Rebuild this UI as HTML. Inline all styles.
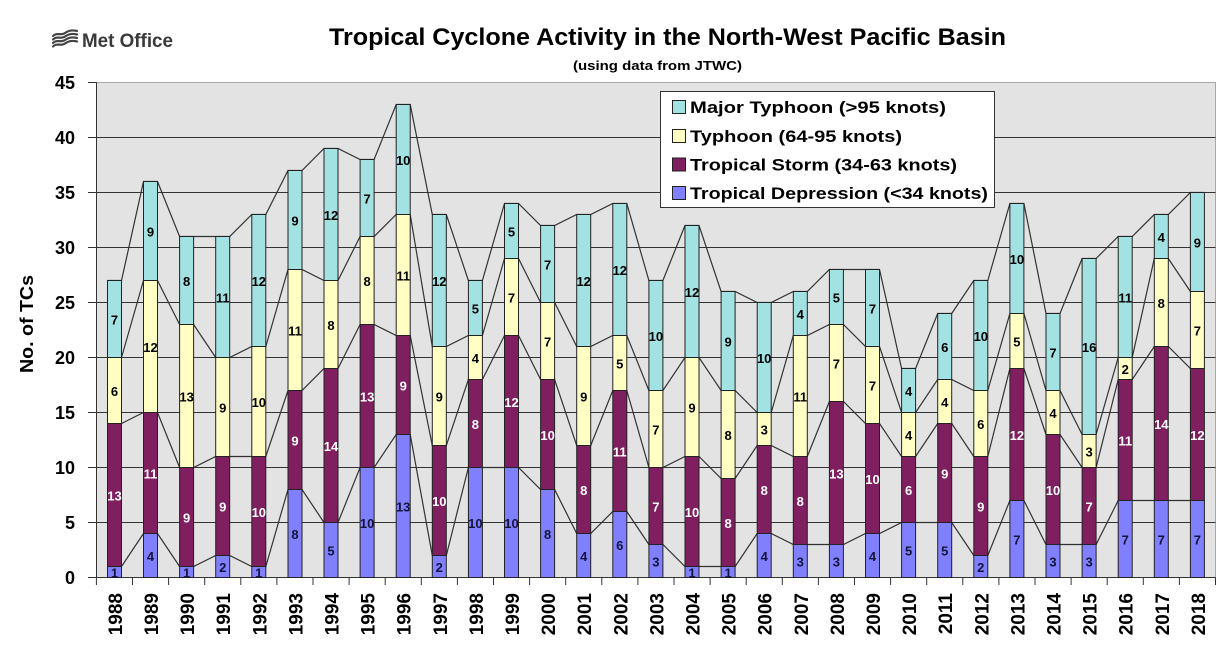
<!DOCTYPE html>
<html><head><meta charset="utf-8">
<style>
html,body{margin:0;padding:0;background:#fff;}
svg{display:block;}
.s rect,.s polyline{vector-effect:non-scaling-stroke;}
.td{fill:#8080ff}.ts{fill:#7f1f5f}.ty{fill:#ffffc4}.mt{fill:#a3e2e2}
text{font-family:"Liberation Sans",Arial,sans-serif;font-weight:bold;}
</style></head>
<body>
<svg width="1230" height="656" viewBox="0 0 1230 656" xmlns="http://www.w3.org/2000/svg">
<rect x="0" y="0" width="1230" height="656" fill="#fff"/>

<!-- Met Office logo -->
<g stroke="#444" stroke-width="2.2" fill="none" stroke-linecap="round">
<path d="M53,36 C57,32 61,36 65,33 S73,30 77,31"/>
<path d="M53,39.5 C57,35.5 61,39.5 65,36.5 S73,33.5 77,34.5"/>
<path d="M53,43 C57,39 61,43 65,40 S73,37 77,38"/>
<path d="M53,46.5 C57,42.5 61,46.5 65,43.5 S73,40.5 77,41.5"/>
</g>
<text x="82" y="47" font-size="19" fill="#3a3a3a" textLength="91" lengthAdjust="spacingAndGlyphs">Met Office</text>

<!-- Titles -->
<text x="329" y="45" font-size="24" fill="#000" textLength="677" lengthAdjust="spacingAndGlyphs">Tropical Cyclone Activity in the North-West Pacific Basin</text>
<text x="573" y="70" font-size="13" fill="#000" textLength="169" lengthAdjust="spacingAndGlyphs">(using data from JTWC)</text>

<!-- Plot area -->
<rect x="96.5" y="82.5" width="1119" height="495" fill="#e3e3e3" stroke="#a8a8a8" stroke-width="1"/>
<g stroke="#333" stroke-width="1" fill="none">
<path d="M96.5,522.5H1215.5M96.5,467.5H1215.5M96.5,412.5H1215.5M96.5,357.5H1215.5M96.5,302.5H1215.5M96.5,247.5H1215.5M96.5,192.5H1215.5M96.5,137.5H1215.5"/>
<path d="M88,577.5H96.5M88,522.5H96.5M88,467.5H96.5M88,412.5H96.5M88,357.5H96.5M88,302.5H96.5M88,247.5H96.5M88,192.5H96.5M88,137.5H96.5M88,82.5H96.5"/>
<path d="M96.5,82.5V577.5H1215.5"/>
<path d="M96.4,577.5V585M132.5,577.5V585M168.6,577.5V585M204.7,577.5V585M240.8,577.5V585M276.9,577.5V585M313,577.5V585M349.1,577.5V585M385.2,577.5V585M421.3,577.5V585M457.4,577.5V585M493.5,577.5V585M529.6,577.5V585M565.7,577.5V585M601.8,577.5V585M637.9,577.5V585M674,577.5V585M710.1,577.5V585M746.2,577.5V585M782.3,577.5V585M818.4,577.5V585M854.5,577.5V585M890.6,577.5V585M926.7,577.5V585M962.8,577.5V585M998.9,577.5V585M1035,577.5V585M1071.1,577.5V585M1107.2,577.5V585M1143.3,577.5V585M1179.4,577.5V585M1215.5,577.5V585"/>
</g>

<!-- Y labels -->
<g font-size="18" fill="#000" text-anchor="end">
<text x="75" y="584">0</text>
<text x="75" y="529">5</text>
<text x="75" y="474">10</text>
<text x="75" y="419">15</text>
<text x="75" y="364">20</text>
<text x="75" y="309">25</text>
<text x="75" y="254">30</text>
<text x="75" y="199">35</text>
<text x="75" y="144">40</text>
<text x="75" y="89">45</text>
</g>
<text transform="translate(33,324) rotate(-90)" font-size="18" text-anchor="middle" textLength="98" lengthAdjust="spacingAndGlyphs">No. of TCs</text>

<!-- Series lines and bars -->
<g class="s" transform="translate(0,577.5) scale(1,-11)">
<g fill="none" stroke="#333" stroke-width="1.2">
<polyline points="107.5,1 121.5,1 143.5,4 157.5,4 179.6,1 193.6,1 215.7,2 229.7,2 251.8,1 265.8,1 288,8 302,8 324,5 338,5 360.1,10 374.1,10 396.2,13 410.2,13 432.3,2 446.3,2 468.4,10 482.4,10 504.5,10 518.5,10 540.6,8 554.6,8 576.7,4 590.7,4 612.8,6 626.8,6 648.9,3 662.9,3 685,1 699,1 721.1,1 735.1,1 757.2,4 771.2,4 793.3,3 807.3,3 829.4,3 843.4,3 865.5,4 879.5,4 901.6,5 915.6,5 937.7,5 951.7,5 973.8,2 987.8,2 1009.9,7 1023.9,7 1046,3 1060,3 1082.1,3 1096.1,3 1118.2,7 1132.2,7 1154.3,7 1168.3,7 1190.4,7 1204.4,7"/>
<polyline points="107.5,14 121.5,14 143.5,15 157.5,15 179.6,10 193.6,10 215.7,11 229.7,11 251.8,11 265.8,11 288,17 302,17 324,19 338,19 360.1,23 374.1,23 396.2,22 410.2,22 432.3,12 446.3,12 468.4,18 482.4,18 504.5,22 518.5,22 540.6,18 554.6,18 576.7,12 590.7,12 612.8,17 626.8,17 648.9,10 662.9,10 685,11 699,11 721.1,9 735.1,9 757.2,12 771.2,12 793.3,11 807.3,11 829.4,16 843.4,16 865.5,14 879.5,14 901.6,11 915.6,11 937.7,14 951.7,14 973.8,11 987.8,11 1009.9,19 1023.9,19 1046,13 1060,13 1082.1,10 1096.1,10 1118.2,18 1132.2,18 1154.3,21 1168.3,21 1190.4,19 1204.4,19"/>
<polyline points="107.5,20 121.5,20 143.5,27 157.5,27 179.6,23 193.6,23 215.7,20 229.7,20 251.8,21 265.8,21 288,28 302,28 324,27 338,27 360.1,31 374.1,31 396.2,33 410.2,33 432.3,21 446.3,21 468.4,22 482.4,22 504.5,29 518.5,29 540.6,25 554.6,25 576.7,21 590.7,21 612.8,22 626.8,22 648.9,17 662.9,17 685,20 699,20 721.1,17 735.1,17 757.2,15 771.2,15 793.3,22 807.3,22 829.4,23 843.4,23 865.5,21 879.5,21 901.6,15 915.6,15 937.7,18 951.7,18 973.8,17 987.8,17 1009.9,24 1023.9,24 1046,17 1060,17 1082.1,13 1096.1,13 1118.2,20 1132.2,20 1154.3,29 1168.3,29 1190.4,26 1204.4,26"/>
<polyline points="107.5,27 121.5,27 143.5,36 157.5,36 179.6,31 193.6,31 215.7,31 229.7,31 251.8,33 265.8,33 288,37 302,37 324,39 338,39 360.1,38 374.1,38 396.2,43 410.2,43 432.3,33 446.3,33 468.4,27 482.4,27 504.5,34 518.5,34 540.6,32 554.6,32 576.7,33 590.7,33 612.8,34 626.8,34 648.9,27 662.9,27 685,32 699,32 721.1,26 735.1,26 757.2,25 771.2,25 793.3,26 807.3,26 829.4,28 843.4,28 865.5,28 879.5,28 901.6,19 915.6,19 937.7,24 951.7,24 973.8,27 987.8,27 1009.9,34 1023.9,34 1046,24 1060,24 1082.1,29 1096.1,29 1118.2,31 1132.2,31 1154.3,33 1168.3,33 1190.4,35 1204.4,35"/>
</g>
<g stroke="#222" stroke-width="1">
<rect class="td" x="107.5" y="0" width="14" height="1"/><rect class="ts" x="107.5" y="1" width="14" height="13"/><rect class="ty" x="107.5" y="14" width="14" height="6"/><rect class="mt" x="107.5" y="20" width="14" height="7"/>
<rect class="td" x="143.5" y="0" width="14" height="4"/><rect class="ts" x="143.5" y="4" width="14" height="11"/><rect class="ty" x="143.5" y="15" width="14" height="12"/><rect class="mt" x="143.5" y="27" width="14" height="9"/>
<rect class="td" x="179.6" y="0" width="14" height="1"/><rect class="ts" x="179.6" y="1" width="14" height="9"/><rect class="ty" x="179.6" y="10" width="14" height="13"/><rect class="mt" x="179.6" y="23" width="14" height="8"/>
<rect class="td" x="215.7" y="0" width="14" height="2"/><rect class="ts" x="215.7" y="2" width="14" height="9"/><rect class="ty" x="215.7" y="11" width="14" height="9"/><rect class="mt" x="215.7" y="20" width="14" height="11"/>
<rect class="td" x="251.8" y="0" width="14" height="1"/><rect class="ts" x="251.8" y="1" width="14" height="10"/><rect class="ty" x="251.8" y="11" width="14" height="10"/><rect class="mt" x="251.8" y="21" width="14" height="12"/>
<rect class="td" x="288" y="0" width="14" height="8"/><rect class="ts" x="288" y="8" width="14" height="9"/><rect class="ty" x="288" y="17" width="14" height="11"/><rect class="mt" x="288" y="28" width="14" height="9"/>
<rect class="td" x="324" y="0" width="14" height="5"/><rect class="ts" x="324" y="5" width="14" height="14"/><rect class="ty" x="324" y="19" width="14" height="8"/><rect class="mt" x="324" y="27" width="14" height="12"/>
<rect class="td" x="360.1" y="0" width="14" height="10"/><rect class="ts" x="360.1" y="10" width="14" height="13"/><rect class="ty" x="360.1" y="23" width="14" height="8"/><rect class="mt" x="360.1" y="31" width="14" height="7"/>
<rect class="td" x="396.2" y="0" width="14" height="13"/><rect class="ts" x="396.2" y="13" width="14" height="9"/><rect class="ty" x="396.2" y="22" width="14" height="11"/><rect class="mt" x="396.2" y="33" width="14" height="10"/>
<rect class="td" x="432.3" y="0" width="14" height="2"/><rect class="ts" x="432.3" y="2" width="14" height="10"/><rect class="ty" x="432.3" y="12" width="14" height="9"/><rect class="mt" x="432.3" y="21" width="14" height="12"/>
<rect class="td" x="468.4" y="0" width="14" height="10"/><rect class="ts" x="468.4" y="10" width="14" height="8"/><rect class="ty" x="468.4" y="18" width="14" height="4"/><rect class="mt" x="468.4" y="22" width="14" height="5"/>
<rect class="td" x="504.5" y="0" width="14" height="10"/><rect class="ts" x="504.5" y="10" width="14" height="12"/><rect class="ty" x="504.5" y="22" width="14" height="7"/><rect class="mt" x="504.5" y="29" width="14" height="5"/>
<rect class="td" x="540.6" y="0" width="14" height="8"/><rect class="ts" x="540.6" y="8" width="14" height="10"/><rect class="ty" x="540.6" y="18" width="14" height="7"/><rect class="mt" x="540.6" y="25" width="14" height="7"/>
<rect class="td" x="576.7" y="0" width="14" height="4"/><rect class="ts" x="576.7" y="4" width="14" height="8"/><rect class="ty" x="576.7" y="12" width="14" height="9"/><rect class="mt" x="576.7" y="21" width="14" height="12"/>
<rect class="td" x="612.8" y="0" width="14" height="6"/><rect class="ts" x="612.8" y="6" width="14" height="11"/><rect class="ty" x="612.8" y="17" width="14" height="5"/><rect class="mt" x="612.8" y="22" width="14" height="12"/>
<rect class="td" x="648.9" y="0" width="14" height="3"/><rect class="ts" x="648.9" y="3" width="14" height="7"/><rect class="ty" x="648.9" y="10" width="14" height="7"/><rect class="mt" x="648.9" y="17" width="14" height="10"/>
<rect class="td" x="685" y="0" width="14" height="1"/><rect class="ts" x="685" y="1" width="14" height="10"/><rect class="ty" x="685" y="11" width="14" height="9"/><rect class="mt" x="685" y="20" width="14" height="12"/>
<rect class="td" x="721.1" y="0" width="14" height="1"/><rect class="ts" x="721.1" y="1" width="14" height="8"/><rect class="ty" x="721.1" y="9" width="14" height="8"/><rect class="mt" x="721.1" y="17" width="14" height="9"/>
<rect class="td" x="757.2" y="0" width="14" height="4"/><rect class="ts" x="757.2" y="4" width="14" height="8"/><rect class="ty" x="757.2" y="12" width="14" height="3"/><rect class="mt" x="757.2" y="15" width="14" height="10"/>
<rect class="td" x="793.3" y="0" width="14" height="3"/><rect class="ts" x="793.3" y="3" width="14" height="8"/><rect class="ty" x="793.3" y="11" width="14" height="11"/><rect class="mt" x="793.3" y="22" width="14" height="4"/>
<rect class="td" x="829.4" y="0" width="14" height="3"/><rect class="ts" x="829.4" y="3" width="14" height="13"/><rect class="ty" x="829.4" y="16" width="14" height="7"/><rect class="mt" x="829.4" y="23" width="14" height="5"/>
<rect class="td" x="865.5" y="0" width="14" height="4"/><rect class="ts" x="865.5" y="4" width="14" height="10"/><rect class="ty" x="865.5" y="14" width="14" height="7"/><rect class="mt" x="865.5" y="21" width="14" height="7"/>
<rect class="td" x="901.6" y="0" width="14" height="5"/><rect class="ts" x="901.6" y="5" width="14" height="6"/><rect class="ty" x="901.6" y="11" width="14" height="4"/><rect class="mt" x="901.6" y="15" width="14" height="4"/>
<rect class="td" x="937.7" y="0" width="14" height="5"/><rect class="ts" x="937.7" y="5" width="14" height="9"/><rect class="ty" x="937.7" y="14" width="14" height="4"/><rect class="mt" x="937.7" y="18" width="14" height="6"/>
<rect class="td" x="973.8" y="0" width="14" height="2"/><rect class="ts" x="973.8" y="2" width="14" height="9"/><rect class="ty" x="973.8" y="11" width="14" height="6"/><rect class="mt" x="973.8" y="17" width="14" height="10"/>
<rect class="td" x="1009.9" y="0" width="14" height="7"/><rect class="ts" x="1009.9" y="7" width="14" height="12"/><rect class="ty" x="1009.9" y="19" width="14" height="5"/><rect class="mt" x="1009.9" y="24" width="14" height="10"/>
<rect class="td" x="1046" y="0" width="14" height="3"/><rect class="ts" x="1046" y="3" width="14" height="10"/><rect class="ty" x="1046" y="13" width="14" height="4"/><rect class="mt" x="1046" y="17" width="14" height="7"/>
<rect class="td" x="1082.1" y="0" width="14" height="3"/><rect class="ts" x="1082.1" y="3" width="14" height="7"/><rect class="ty" x="1082.1" y="10" width="14" height="3"/><rect class="mt" x="1082.1" y="13" width="14" height="16"/>
<rect class="td" x="1118.2" y="0" width="14" height="7"/><rect class="ts" x="1118.2" y="7" width="14" height="11"/><rect class="ty" x="1118.2" y="18" width="14" height="2"/><rect class="mt" x="1118.2" y="20" width="14" height="11"/>
<rect class="td" x="1154.3" y="0" width="14" height="7"/><rect class="ts" x="1154.3" y="7" width="14" height="14"/><rect class="ty" x="1154.3" y="21" width="14" height="8"/><rect class="mt" x="1154.3" y="29" width="14" height="4"/>
<rect class="td" x="1190.4" y="0" width="14" height="7"/><rect class="ts" x="1190.4" y="7" width="14" height="12"/><rect class="ty" x="1190.4" y="19" width="14" height="7"/><rect class="mt" x="1190.4" y="26" width="14" height="9"/>
</g>
</g>

<!-- Data labels -->
<g font-size="13" text-anchor="middle">
<g fill="#14143a">
<text x="114.5" y="577.5">1</text><text x="150.5" y="561">4</text><text x="186.6" y="577.5">1</text><text x="222.7" y="572">2</text><text x="258.8" y="577.5">1</text><text x="295" y="539">8</text><text x="331" y="555.5">5</text><text x="367.1" y="528">10</text><text x="403.2" y="511.5">13</text><text x="439.3" y="572">2</text><text x="475.4" y="528">10</text><text x="511.5" y="528">10</text><text x="547.6" y="539">8</text><text x="583.7" y="561">4</text><text x="619.8" y="550">6</text><text x="655.9" y="566.5">3</text><text x="692" y="577.5">1</text><text x="728.1" y="577.5">1</text><text x="764.2" y="561">4</text><text x="800.3" y="566.5">3</text><text x="836.4" y="566.5">3</text><text x="872.5" y="561">4</text><text x="908.6" y="555.5">5</text><text x="944.7" y="555.5">5</text><text x="980.8" y="572">2</text><text x="1016.9" y="544.5">7</text><text x="1053" y="566.5">3</text><text x="1089.1" y="566.5">3</text><text x="1125.2" y="544.5">7</text><text x="1161.3" y="544.5">7</text><text x="1197.4" y="544.5">7</text>
</g>
<g fill="#fff">
<text x="114.5" y="500.5">13</text><text x="150.5" y="478.5">11</text><text x="186.6" y="522.5">9</text><text x="222.7" y="511.5">9</text><text x="258.8" y="517">10</text><text x="295" y="445.5">9</text><text x="331" y="451">14</text><text x="367.1" y="401.5">13</text><text x="403.2" y="390.5">9</text><text x="439.3" y="506">10</text><text x="475.4" y="429">8</text><text x="511.5" y="407">12</text><text x="547.6" y="440">10</text><text x="583.7" y="495">8</text><text x="619.8" y="456.5">11</text><text x="655.9" y="511.5">7</text><text x="692" y="517">10</text><text x="728.1" y="528">8</text><text x="764.2" y="495">8</text><text x="800.3" y="506">8</text><text x="836.4" y="478.5">13</text><text x="872.5" y="484">10</text><text x="908.6" y="495">6</text><text x="944.7" y="478.5">9</text><text x="980.8" y="511.5">9</text><text x="1016.9" y="440">12</text><text x="1053" y="495">10</text><text x="1089.1" y="511.5">7</text><text x="1125.2" y="445.5">11</text><text x="1161.3" y="429">14</text><text x="1197.4" y="440">12</text>
</g>
<g fill="#000">
<text x="114.5" y="396">6</text><text x="150.5" y="352">12</text><text x="186.6" y="401.5">13</text><text x="222.7" y="412.5">9</text><text x="258.8" y="407">10</text><text x="295" y="335.5">11</text><text x="331" y="330">8</text><text x="367.1" y="286">8</text><text x="403.2" y="280.5">11</text><text x="439.3" y="401.5">9</text><text x="475.4" y="363">4</text><text x="511.5" y="302.5">7</text><text x="547.6" y="346.5">7</text><text x="583.7" y="401.5">9</text><text x="619.8" y="368.5">5</text><text x="655.9" y="434.5">7</text><text x="692" y="412.5">9</text><text x="728.1" y="440">8</text><text x="764.2" y="434.5">3</text><text x="800.3" y="401.5">11</text><text x="836.4" y="368.5">7</text><text x="872.5" y="390.5">7</text><text x="908.6" y="440">4</text><text x="944.7" y="407">4</text><text x="980.8" y="429">6</text><text x="1016.9" y="346.5">5</text><text x="1053" y="418">4</text><text x="1089.1" y="456.5">3</text><text x="1125.2" y="374">2</text><text x="1161.3" y="308">8</text><text x="1197.4" y="335.5">7</text>
<text x="114.5" y="324.5">7</text><text x="150.5" y="236.5">9</text><text x="186.6" y="286">8</text><text x="222.7" y="302.5">11</text><text x="258.8" y="286">12</text><text x="295" y="225.5">9</text><text x="331" y="220">12</text><text x="367.1" y="203.5">7</text><text x="403.2" y="165">10</text><text x="439.3" y="286">12</text><text x="475.4" y="313.5">5</text><text x="511.5" y="236.5">5</text><text x="547.6" y="269.5">7</text><text x="583.7" y="286">12</text><text x="619.8" y="275">12</text><text x="655.9" y="341">10</text><text x="692" y="297">12</text><text x="728.1" y="346.5">9</text><text x="764.2" y="363">10</text><text x="800.3" y="319">4</text><text x="836.4" y="302.5">5</text><text x="872.5" y="313.5">7</text><text x="908.6" y="396">4</text><text x="944.7" y="352">6</text><text x="980.8" y="341">10</text><text x="1016.9" y="264">10</text><text x="1053" y="357.5">7</text><text x="1089.1" y="352">16</text><text x="1125.2" y="302.5">11</text><text x="1161.3" y="242">4</text><text x="1197.4" y="247.5">9</text>
</g>
</g>

<!-- X labels -->
<g font-size="19" fill="#000" text-anchor="end">
<text transform="translate(122,593) rotate(-90)">1988</text>
<text transform="translate(158,593) rotate(-90)">1989</text>
<text transform="translate(194.1,593) rotate(-90)">1990</text>
<text transform="translate(230.2,593) rotate(-90)">1991</text>
<text transform="translate(266.3,593) rotate(-90)">1992</text>
<text transform="translate(302.5,593) rotate(-90)">1993</text>
<text transform="translate(338.5,593) rotate(-90)">1994</text>
<text transform="translate(374.6,593) rotate(-90)">1995</text>
<text transform="translate(410.7,593) rotate(-90)">1996</text>
<text transform="translate(446.8,593) rotate(-90)">1997</text>
<text transform="translate(482.9,593) rotate(-90)">1998</text>
<text transform="translate(519,593) rotate(-90)">1999</text>
<text transform="translate(555.1,593) rotate(-90)">2000</text>
<text transform="translate(591.2,593) rotate(-90)">2001</text>
<text transform="translate(627.3,593) rotate(-90)">2002</text>
<text transform="translate(663.4,593) rotate(-90)">2003</text>
<text transform="translate(699.5,593) rotate(-90)">2004</text>
<text transform="translate(735.6,593) rotate(-90)">2005</text>
<text transform="translate(771.7,593) rotate(-90)">2006</text>
<text transform="translate(807.8,593) rotate(-90)">2007</text>
<text transform="translate(843.9,593) rotate(-90)">2008</text>
<text transform="translate(880,593) rotate(-90)">2009</text>
<text transform="translate(916.1,593) rotate(-90)">2010</text>
<text transform="translate(952.2,593) rotate(-90)">2011</text>
<text transform="translate(988.3,593) rotate(-90)">2012</text>
<text transform="translate(1024.4,593) rotate(-90)">2013</text>
<text transform="translate(1060.5,593) rotate(-90)">2014</text>
<text transform="translate(1096.6,593) rotate(-90)">2015</text>
<text transform="translate(1132.7,593) rotate(-90)">2016</text>
<text transform="translate(1168.8,593) rotate(-90)">2017</text>
<text transform="translate(1204.9,593) rotate(-90)">2018</text>
</g>

<!-- Legend -->
<rect x="660.5" y="91.5" width="334" height="116" fill="#fff" stroke="#333" stroke-width="1"/>
<g stroke="#222" stroke-width="1">
<rect class="mt" x="672.5" y="100.5" width="13" height="13"/>
<rect class="ty" x="672.5" y="129.5" width="13" height="13"/>
<rect class="ts" x="672.5" y="158" width="13" height="13"/>
<rect class="td" x="672.5" y="186.5" width="13" height="13"/>
</g>
<g font-size="17" fill="#000">
<text x="690" y="113" textLength="256" lengthAdjust="spacingAndGlyphs">Major Typhoon (&gt;95 knots)</text>
<text x="690" y="142" textLength="212" lengthAdjust="spacingAndGlyphs">Typhoon (64-95 knots)</text>
<text x="690" y="170.5" textLength="267" lengthAdjust="spacingAndGlyphs">Tropical Storm (34-63 knots)</text>
<text x="690" y="199" textLength="298" lengthAdjust="spacingAndGlyphs">Tropical Depression (&lt;34 knots)</text>
</g>
</svg>
</body></html>
